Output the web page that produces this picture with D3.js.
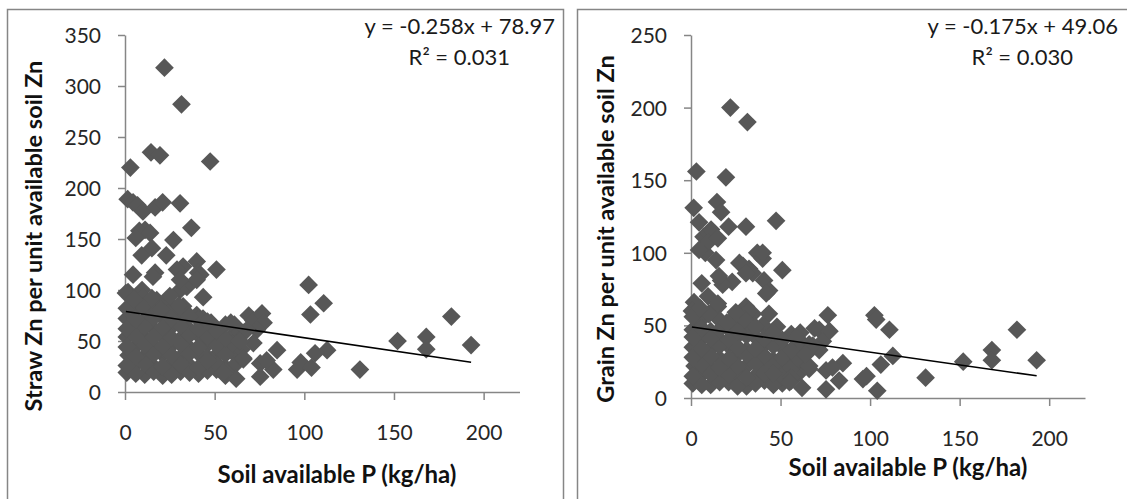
<!DOCTYPE html>
<html>
<head>
<meta charset="utf-8">
<script src="https://cdn.jsdelivr.net/npm/d3@7"></script>
<style>
  html, body { margin: 0; padding: 0; background: #fff; }
  svg { display: block; }
  text { font-family: Lato, "Open Sans", sans-serif; }
</style>
</head>
<body>
<svg id="chart" width="1127" height="499"></svg>
<script>
// Soil available P (kg/ha) for each sampled field, shared by both panels
const soilP = [
  22, 31.5, 3, 14.5, 19.5, 47.5, 1.5, 4.5, 7, 10, 16.8, 21, 30.7, 11.2, 8, 14, 6, 37, 9.3, 15,
  27, 23, 4.5, 16.8, 32.4, 40, 51, 34.5, 40.8, 29, 43.6, 1.7, 9.5, 17.7, 15, 30.7, 27, 34.6, 5.6, 43.5,
  15.6, 42, 40, 30.7, 0.5, 10, 23, 32.4, 40, 28.6, 48, 61,
  1, 11, 21, 31, 41, 51,
  6, 16, 26, 36, 46, 56,
  2, 11, 21, 31, 41, 51, 60,
  6, 16, 26, 36, 46, 56, 65,
  1, 11, 21, 31, 41, 51, 61,
  6, 16, 26, 36, 46, 56,
  1, 11, 21, 31, 41,
  5, 15, 25,
  6, 16, 26, 36, 46, 56,
  1, 11, 21, 31, 41, 51, 61,
  6, 16, 26, 36, 46, 56, 66,
  1, 11, 21, 31, 41, 51, 60,
  6, 16, 26, 36, 46, 56, 66,
  1, 11, 21, 31, 41, 51, 61,
  6, 16, 26, 36, 46,
  1, 10, 20, 30,
  5, 15, 25,
  62, 69, 71.6, 76.4, 77.3, 73.6, 71.6, 84.8, 75.4, 82.7, 75.4, 79, 68, 66, 56, 55, 46, 59, 64,
  96, 98, 102.4, 103.4, 110.8, 112.7, 106, 104, 131, 152, 168, 168, 182, 193
];

// Straw Zn per unit available soil Zn
const strawZn = [
  318, 282, 220, 235, 232, 226, 189, 186, 183, 177, 181, 186, 185, 159, 158, 156, 151, 161, 134, 141,
  149, 134, 115, 117, 123, 128, 120, 103, 117, 120, 93, 98, 100, 90, 87, 100, 82, 77, 83, 72,
  113, 115, 110, 110, 97, 93, 88.5, 84, 75.5, 75, 68, 66,
  19, 17, 16, 20, 18, 22,
  27, 25, 28, 26, 29, 24,
  36, 35, 37, 34, 38, 36, 39,
  45, 44, 46, 43, 47, 45, 42,
  54, 53, 55, 52, 56, 53, 57,
  63, 62, 64, 61, 63, 66,
  72, 71, 73, 70, 71,
  81, 80, 79,
  18, 20, 17, 19, 21, 16,
  26, 28, 25, 27, 24, 28, 26,
  35, 37, 36, 38, 34, 37, 32,
  44, 46, 45, 47, 44, 46, 48,
  55, 54, 53, 56, 54, 52, 58,
  62, 64, 63, 65, 62, 60, 64,
  71, 73, 72, 74, 69,
  82, 84, 81, 85,
  91, 92, 94,
  13, 75, 70, 77, 68, 61, 48, 41, 28, 22, 15, 31, 61, 33, 20, 19, 31, 68, 50,
  22, 29, 105, 76, 87, 41, 38, 24, 22, 50, 54, 42, 74, 46
];

// Grain Zn per unit available soil Zn
const grainZn = [
  200, 190, 156, 135, 152, 122, 131, 121, 111, 113, 128, 118, 118, 116, 100, 95, 79, 100, 107, 110,
  93, 80, 102, 81, 89, 96, 88, 86, 81, 91, 74, 66, 70, 78, 63, 63, 58, 58, 55, 58,
  84, 72, 100, 86, 60, 58, 54, 60, 50, 52, 49, 45,
  10, 9, 11, 8, 12, 10,
  16, 15, 17, 15, 18, 16,
  22, 21, 24, 22, 20, 23, 25,
  29, 27, 30, 28, 26, 29, 31,
  35, 34, 36, 33, 37, 35, 38,
  41, 40, 43, 42, 39, 44,
  47, 46, 48, 45, 49,
  53, 55, 50,
  9, 11, 8, 10, 9, 12,
  15, 17, 16, 14, 17, 15, 18,
  23, 21, 22, 24, 23, 21, 20,
  28, 29, 27, 30, 29, 28, 27,
  34, 36, 35, 34, 36, 33, 37,
  42, 41, 40, 43, 41, 40, 39,
  48, 47, 46, 49, 45,
  56, 58, 52, 54,
  62, 65, 59,
  7, 48, 47, 57, 46, 39, 33, 24, 19, 12, 6, 21, 36, 22, 14, 11, 17, 42, 30,
  13, 15, 57, 54, 47, 29, 23, 5, 14, 25, 33, 26, 47, 26
];

// Axis ticks
const xTicks = [0, 50, 100, 150, 200];
const strawTicks = [0, 50, 100, 150, 200, 250, 300, 350];
const grainTicks = [0, 50, 100, 150, 200, 250];

// Linear trend lines: [slope, intercept] and their R² values
const strawFit = [-0.258, 78.97];
const grainFit = [-0.175, 49.06];
const strawR2 = "0.031";
const grainR2 = "0.030";

// Axis titles
const xTitle = "Soil available P (kg/ha)";
const strawTitle = "Straw Zn per unit available soil Zn";
const grainTitle = "Grain Zn per unit available soil Zn";

const svg = d3.select("#chart");
const AXIS = "#868686";
const MARK = "#575757";

const panels = [
  {
    frame: [7.5, 9.5, 556, 520],
    xRange: [125, 519.5], yRange: [392, 35], yMax: 350,
    yValues: strawZn, yTicks: strawTicks, fit: strawFit, r2: strawR2,
    yTitle: strawTitle, yTitleX: 34, yTitleY: 236,
    xTitleX: 337, xTitleY: 483, eqX: 555
  },
  {
    frame: [577.5, 9.5, 556, 520],
    xRange: [691, 1085], yRange: [398, 35], yMax: 250,
    yValues: grainZn, yTicks: grainTicks, fit: grainFit, r2: grainR2,
    yTitle: grainTitle, yTitleX: 606, yTitleY: 229,
    xTitleX: 908, xTitleY: 476, eqX: 1118
  }
];

const diamond = d3.symbol().type(d3.symbolSquare).size(175);

panels.forEach(p => {
  const g = svg.append("g");

  // panel frame
  g.append("rect")
    .attr("x", p.frame[0]).attr("y", p.frame[1])
    .attr("width", p.frame[2]).attr("height", p.frame[3])
    .attr("fill", "#fff").attr("stroke", AXIS).attr("stroke-width", 1.5);

  const x = d3.scaleLinear().domain([0, 220]).range(p.xRange);
  const y = d3.scaleLinear().domain([0, p.yMax]).range(p.yRange);

  // x axis
  const xa = g.append("g")
    .attr("transform", `translate(0,${p.yRange[0]})`)
    .call(d3.axisBottom(x).tickValues(xTicks).tickSize(8).tickSizeOuter(0).tickPadding(25));
  // y axis
  const ya = g.append("g")
    .attr("transform", `translate(${p.xRange[0]},0)`)
    .call(d3.axisLeft(y).tickValues(p.yTicks).tickSize(7).tickSizeOuter(0).tickPadding(17));

  [xa, ya].forEach(a => {
    a.select(".domain").attr("stroke", AXIS).attr("stroke-width", 1.5);
    a.selectAll(".tick line").attr("stroke", AXIS).attr("stroke-width", 1.5);
    a.selectAll(".tick text").attr("fill", "#262626")
      .style("font-size", "21px").style("font-family", "Lato, sans-serif");
  });
  ya.selectAll(".tick text").attr("dy", "0.36em");

  // scatter points
  g.append("g").selectAll("path")
    .data(soilP.map((v, i) => [v, p.yValues[i]]))
    .join("path")
    .attr("d", diamond)
    .attr("transform", d => `translate(${x(d[0])},${y(d[1])}) rotate(45)`)
    .attr("fill", MARK);

  // linear trend line
  const xMin = d3.min(soilP), xMax = d3.max(soilP);
  g.append("line")
    .attr("x1", x(xMin)).attr("y1", y(p.fit[0] * xMin + p.fit[1]))
    .attr("x2", x(xMax)).attr("y2", y(p.fit[0] * xMax + p.fit[1]))
    .attr("stroke", "#000").attr("stroke-width", 1.5);

  // trend equation
  const eq = g.append("g").attr("fill", "#1a1a1a").style("font-size", "22px");
  eq.append("text").attr("x", p.eqX).attr("y", 34).attr("text-anchor", "end")
    .text(`y = ${p.fit[0].toFixed(3)}x + ${p.fit[1].toFixed(2)}`);
  eq.append("text").attr("x", p.eqX - 45).attr("y", 65).attr("text-anchor", "end")
    .text(`R² = ${p.r2}`);

  // axis titles
  g.append("text")
    .attr("x", p.xTitleX).attr("y", p.xTitleY)
    .attr("text-anchor", "middle")
    .style("font-size", "24px").style("font-weight", "bold").attr("fill", "#111")
    .text(xTitle);
  g.append("text")
    .attr("transform", `translate(${p.yTitleX},${p.yTitleY}) rotate(-90)`)
    .attr("text-anchor", "middle").attr("dy", "0.35em")
    .style("font-size", "23.5px").style("font-weight", "bold").attr("fill", "#111")
    .text(p.yTitle);
});
</script>
</body>
</html>
